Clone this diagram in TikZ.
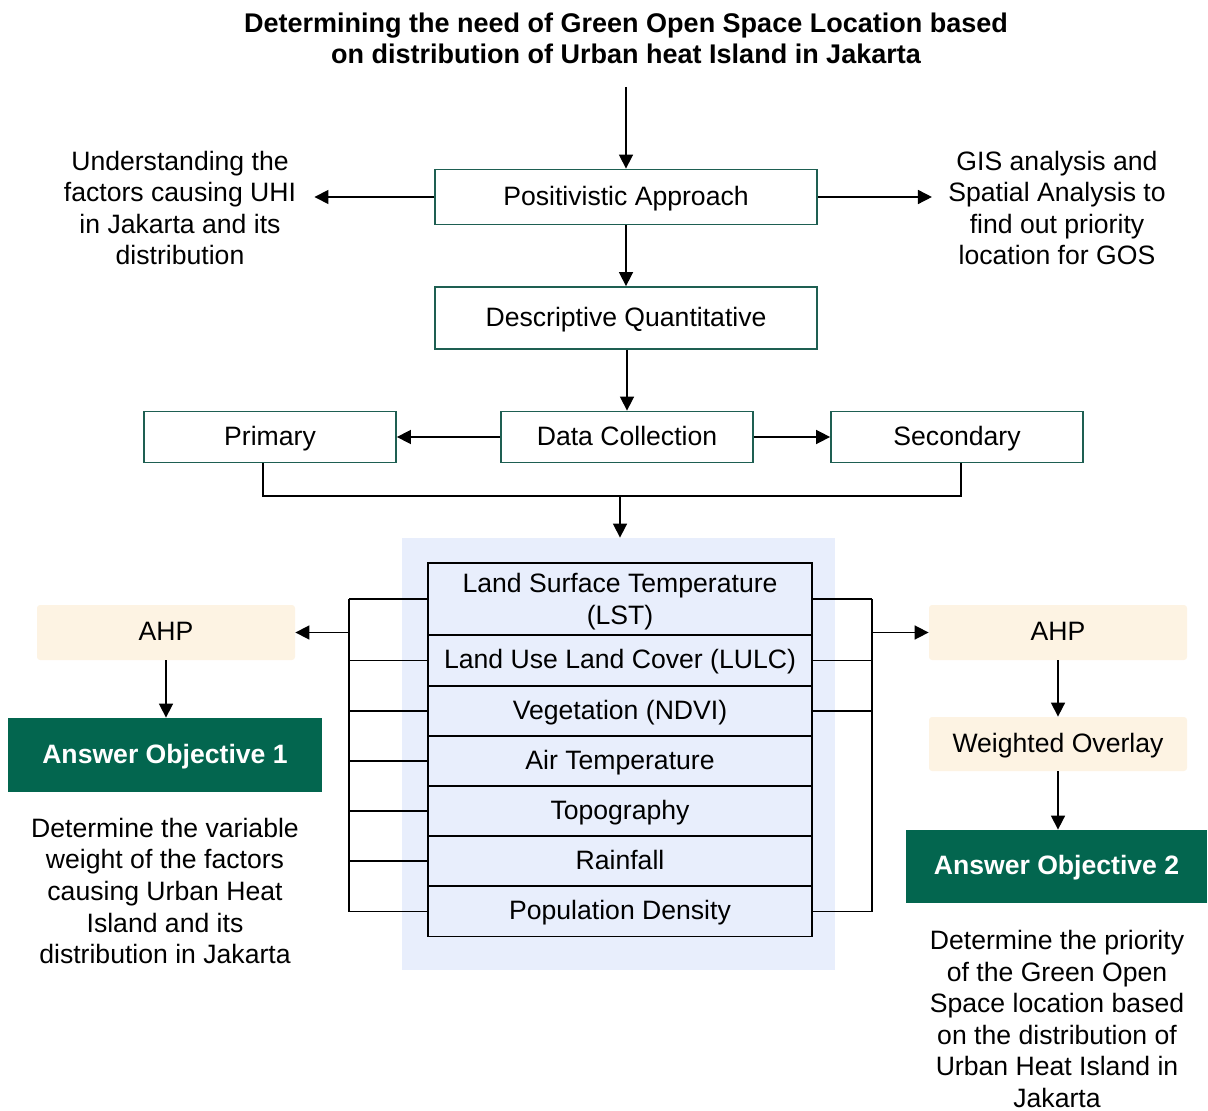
\documentclass[tikz,border=0pt]{standalone}
\usepackage{fontspec}
\setmainfont{Liberation Sans}
\usetikzlibrary{arrows.meta}

\definecolor{boxline}{HTML}{1E5F52}
\definecolor{ahpfill}{HTML}{FDF3E3}
\definecolor{objfill}{HTML}{03664F}
\definecolor{bgblue}{HTML}{E8EEFC}

\begin{document}
\begin{tikzpicture}[x = 0.5pt, y = -0.5pt,
    every node/.style = {font = \fontsize{13.3}{15.8}\selectfont, align = center, inner sep = 0pt},
    oneline/.style = {text height = 1.9ex, text depth = 0.3ex},
    stagebox/.style = {oneline, draw = boxline, line width = 0.9pt, minimum width = 191pt, minimum height = 27.5pt},
    smallbox/.style = {oneline, draw = boxline, line width = 0.9pt, minimum width = 126pt, minimum height = 25.5pt},
    varbox/.style = {oneline, draw = black, line width = 0.9pt, fill = bgblue, minimum width = 192pt, minimum height = 25pt},
    ahpbox/.style = {oneline, fill = ahpfill, rounded corners = 1.5pt, minimum width = 129pt, minimum height = 27.5pt},
    objbox/.style = {oneline, fill = objfill, text = white, font = \fontsize{13.3}{16}\selectfont\bfseries, minimum height = 37pt},
    conn/.style = {line width = 0.8pt, -{Triangle[length = 7pt, width = 7pt]}},
    tie/.style = {line width = 0.8pt}]
  \useasboundingbox (0,0) rectangle (1208,1111);

  % heading and approach
  \node[font = \fontsize{13.5}{15.5}\selectfont\bfseries] (title) at (626,38)
    {Determining the need of Green Open Space Location based\\on distribution of Urban heat Island in Jakarta};
  \coordinate (start) at (626,87);
  \node[stagebox] (posit) at (626,197) {Positivistic Approach};
  \node[stagebox, minimum height = 31pt] (desc) at (626,318) {Descriptive Quantitative};
  \node[inner xsep = 9pt] (uhi) at (180,208) {Understanding the\\factors causing UHI\\in Jakarta and its\\distribution};
  \node[inner xsep = 8pt] (gis) at (1057,208) {GIS analysis and\\Spatial Analysis to\\find out priority\\location for GOS};

  % data collection
  \node[smallbox] (collect) at (627,437) {Data Collection};
  \node[smallbox] (primary) at (270,437) {Primary};
  \node[smallbox] (second) at (957,437) {Secondary};
  \coordinate (merge) at (620,496);

  % variables
  \node[fill = bgblue, minimum width = 216.5pt, minimum height = 216pt] (panel) at (618.5,754) {};
  \node[varbox, text height =, text depth = 0pt, minimum height = 36pt] (lst) at (620,599) {Land Surface Temperature\\(LST)};
  \foreach \name/\txt/\y in {lulc/Land Use Land Cover (LULC)/660.5, ndvi/Vegetation (NDVI)/711,
      air/Air Temperature/761, topo/Topography/811, rain/Rainfall/861, pop/Population Density/911.5}
    \node[varbox] (\name) at (620,\y) {\txt};
  \coordinate (leftbus) at (349,632.5);
  \coordinate (rightbus) at (872,632.5);

  % objectives
  \node[ahpbox] (ahpL) at (166,632.5) {AHP};
  \node[objbox, minimum width = 157pt] (obj1) at (165,755) {Answer Objective 1};
  \node (desc1) at (165,891) {Determine the variable\\weight of the factors\\causing Urban Heat\\Island and its\\distribution in Jakarta};
  \node[ahpbox] (ahpR) at (1058,632.5) {AHP};
  \node[ahpbox, minimum height = 27pt] (overlay) at (1058,744) {Weighted Overlay};
  \node[objbox, minimum width = 150.5pt, minimum height = 36.5pt] (obj2) at (1056.5,866.5) {Answer Objective 2};
  \node (desc2) at (1057,1019) {Determine the priority\\of the Green Open\\Space location based\\on the distribution of\\Urban Heat Island in\\Jakarta};

  % connectors
  \draw[conn] (start) -- (posit.north);
  \draw[conn] (posit.west) -- (posit.west -| uhi.east);
  \draw[conn] (posit.east) -- (posit.east -| gis.west);
  \draw[conn] (posit.south) -- (desc.north);
  \draw[conn] (collect.north |- desc.south) -- (collect.north);
  \draw[conn] (collect.west) -- (primary.east);
  \draw[conn] (collect.east) -- (second.west);
  \draw[tie] ([xshift = -3.5pt]primary.south) |- (merge) -| ([xshift = 2pt]second.south);
  \draw[conn] (merge) -- (merge |- panel.north);
  \foreach \name in {lst, lulc, ndvi, air, topo, rain, pop}
    \draw[tie] (\name.west) -- (leftbus |- \name.west);
  \foreach \name in {lst, lulc, ndvi, pop}
    \draw[tie] (\name.east) -- (rightbus |- \name.east);
  \draw[tie] (leftbus |- lst.west) -- (leftbus |- pop.west);
  \draw[tie] (rightbus |- lst.east) -- (rightbus |- pop.east);
  \draw[conn] (leftbus) -- (ahpL.east);
  \draw[conn] (rightbus) -- (ahpR.west);
  \draw[conn] (ahpL.south) -- (ahpL.south |- obj1.north);
  \draw[conn] (ahpR.south) -- (overlay.north);
  \draw[conn] (overlay.south) -- (overlay.south |- obj2.north);
\end{tikzpicture}
\end{document}
